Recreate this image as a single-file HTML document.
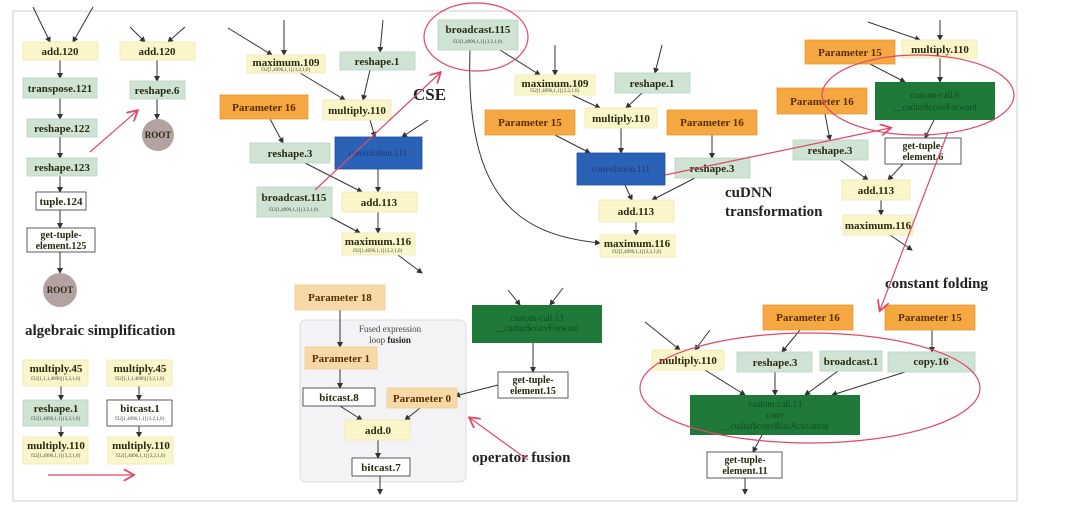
<!DOCTYPE html>
<html><head><meta charset="utf-8"><style>
html,body{margin:0;padding:0;background:#fff;}
svg{display:block;font-family:"Liberation Serif",serif;}
.b{font-weight:bold;fill:#2a2a10;}
</style></head><body>
<svg width="1080" height="518" viewBox="0 0 1080 518" xmlns="http://www.w3.org/2000/svg">
<defs>
<marker id="a" markerWidth="6" markerHeight="6" refX="5" refY="3" orient="auto"><path d="M0,0 L6,3 L0,6 z" fill="#333"/></marker>
<marker id="p" markerWidth="10" markerHeight="10" refX="8" refY="5" orient="auto"><path d="M0,0 L9,5 L0,10" fill="none" stroke="#e0486a" stroke-width="1.5"/></marker>
</defs>
<rect x="13" y="11" width="1004" height="490" fill="#fff" stroke="#ccc"/>
<rect x="300" y="320" width="166" height="162" rx="6" fill="#f3f3f5" stroke="#ddd"/>
<g stroke="#333" stroke-width="1" fill="none" marker-end="url(#a)">
<path d="M33,7 L50,42"/><path d="M93,7 L73,42"/>
<path d="M60,60 L60,78"/><path d="M60,98 L60,119"/><path d="M60,137 L60,158"/><path d="M60,176 L60,192"/><path d="M60,210 L60,228"/><path d="M60,252 L60,273"/>
<path d="M130,27 L145,42"/><path d="M185,27 L168,42"/><path d="M157,60 L157,81"/><path d="M157,99 L157,119"/>
<path d="M228,28 L272,55"/><path d="M284,20 L284,55"/><path d="M383,20 L380,52"/>
<path d="M300,73 L345,100"/><path d="M370,70 L363,100"/><path d="M370,120 L375,137"/><path d="M428,120 L402,137"/>
<path d="M270,119 L283,143"/><path d="M305,163 L362,192"/><path d="M378,169 L378,192"/>
<path d="M330,217 L360,233"/><path d="M378,212 L378,233"/><path d="M398,255 L422,273"/>
<path d="M500,50 L540,75"/><path d="M555,45 L555,75"/><path d="M662,45 L655,73"/>
<path d="M572,95 L600,108"/><path d="M642,93 L626,108"/>
<path d="M555,135 L590,153"/><path d="M621,128 L621,153"/><path d="M712,135 L712,158"/>
<path d="M625,185 L632,200"/><path d="M695,178 L652,200"/><path d="M636,222 L636,235"/>
<path d="M470,50 C465,200 520,235 600,243"/>
<path d="M868,22 L920,40"/><path d="M940,20 L940,40"/>
<path d="M870,64 L905,82"/><path d="M940,58 L940,82"/>
<path d="M825,114 L830,140"/><path d="M934,120 L925,138"/>
<path d="M840,160 L868,180"/><path d="M903,164 L888,180"/><path d="M881,200 L881,215"/><path d="M890,235 L912,250"/>
<path d="M340,310 L340,347"/><path d="M340,369 L340,388"/>
<path d="M340,406 L362,420"/><path d="M420,408 L405,420"/><path d="M378,440 L378,458"/><path d="M380,476 L380,494"/>
<path d="M508,290 L520,305"/><path d="M563,288 L550,305"/><path d="M533,343 L533,372"/><path d="M498,385 L455,396"/>
<path d="M645,322 L680,350"/><path d="M710,330 L695,350"/>
<path d="M800,330 L782,352"/><path d="M932,330 L932,352"/>
<path d="M705,370 L745,395"/><path d="M775,372 L775,395"/><path d="M838,371 L805,395"/><path d="M905,372 L832,395"/>
<path d="M762,435 L753,452"/><path d="M745,478 L745,494"/>
<path d="M61,386 L61,400"/><path d="M61,426 L61,437"/><path d="M139,386 L139,400"/><path d="M139,426 L139,437"/>
</g>
<g stroke-width="0.8">
<g fill="#fbf6c9" stroke="#efe9b0">
<rect x="23" y="42" width="75" height="18"/><rect x="120" y="42" width="75" height="18"/>
<rect x="247" y="55" width="78" height="18"/><rect x="323" y="100" width="68" height="20"/>
<rect x="342" y="192" width="75" height="20"/><rect x="342" y="233" width="73" height="22"/>
<rect x="515" y="75" width="80" height="20"/><rect x="585" y="108" width="72" height="20"/>
<rect x="599" y="200" width="75" height="22"/><rect x="600" y="235" width="75" height="22"/>
<rect x="902" y="40" width="75" height="18"/><rect x="842" y="180" width="68" height="20"/><rect x="843" y="215" width="70" height="20"/>
<rect x="345" y="420" width="65" height="20"/><rect x="652" y="350" width="72" height="20"/>
<rect x="23" y="360" width="65" height="26"/><rect x="23" y="437" width="65" height="27"/>
<rect x="107" y="360" width="65" height="26"/><rect x="108" y="437" width="65" height="27"/>
</g>
<g fill="#cfe3d4" stroke="#b8d2bf">
<rect x="23" y="78" width="74" height="20"/><rect x="27" y="119" width="70" height="18"/><rect x="27" y="158" width="70" height="18"/>
<rect x="130" y="81" width="55" height="18"/><rect x="340" y="52" width="75" height="18"/><rect x="250" y="143" width="80" height="20"/>
<rect x="257" y="187" width="75" height="30"/><rect x="438" y="20" width="80" height="30"/><rect x="615" y="73" width="75" height="20"/>
<rect x="675" y="158" width="75" height="20"/><rect x="793" y="140" width="75" height="20"/>
<rect x="737" y="352" width="75" height="20"/><rect x="820" y="351" width="62" height="20"/><rect x="888" y="352" width="87" height="20"/>
<rect x="23" y="400" width="65" height="26"/>
</g>
<g fill="#f5a742" stroke="#e8982f">
<rect x="220" y="95" width="88" height="24"/><rect x="485" y="110" width="90" height="25"/><rect x="667" y="110" width="90" height="25"/>
<rect x="805" y="40" width="90" height="24"/><rect x="777" y="88" width="90" height="26"/>
<rect x="763" y="305" width="90" height="25"/><rect x="885" y="305" width="90" height="25"/>
</g>
<g fill="#f7d9a8" stroke="#efcb90">
<rect x="295" y="285" width="90" height="25"/><rect x="305" y="347" width="72" height="22"/><rect x="387" y="388" width="70" height="20"/>
</g>
<g fill="#fff" stroke="#333">
<rect x="36" y="192" width="50" height="18"/><rect x="27" y="228" width="68" height="24"/>
<rect x="107" y="400" width="65" height="26"/><rect x="885" y="138" width="76" height="26"/>
<rect x="303" y="388" width="72" height="18"/><rect x="352" y="458" width="58" height="18"/>
<rect x="498" y="372" width="70" height="26"/><rect x="707" y="452" width="75" height="26"/>
</g>
<rect x="335" y="137" width="87" height="32" fill="#2a62b8" stroke="#1e4e99"/>
<rect x="577" y="153" width="88" height="32" fill="#2a62b8" stroke="#1e4e99"/>
<rect x="875" y="82" width="120" height="38" fill="#1f7a3a"/>
<rect x="472" y="305" width="130" height="38" fill="#1f7a3a"/>
<rect x="690" y="395" width="170" height="40" fill="#1f7a3a"/>
</g>
<circle cx="60" cy="290" r="17" fill="#b2a2a2"/><circle cx="158" cy="135" r="16" fill="#b2a2a2"/>
<g font-size="11" class="b" text-anchor="middle">
<text x="60" y="55">add.120</text><text x="60" y="92">transpose.121</text><text x="62" y="132">reshape.122</text><text x="62" y="171">reshape.123</text>
<text x="61" y="205">tuple.124</text><text x="61" y="238" font-size="10">get-tuple-</text><text x="61" y="249" font-size="10">element.125</text>
<text x="60" y="293" font-size="9">ROOT</text><text x="158" y="138" font-size="9">ROOT</text>
<text x="157" y="55">add.120</text><text x="157" y="94">reshape.6</text>
<text x="286" y="66">maximum.109</text><text x="377" y="65">reshape.1</text><text x="264" y="111" fill="#5a3000">Parameter 16</text>
<text x="357" y="114">multiply.110</text><text x="290" y="157">reshape.3</text><text x="294" y="201">broadcast.115</text>
<text x="379" y="206">add.113</text><text x="378" y="245">maximum.116</text>
<text x="478" y="33">broadcast.115</text><text x="555" y="87">maximum.109</text><text x="652" y="87">reshape.1</text>
<text x="530" y="126" fill="#5a3000">Parameter 15</text><text x="621" y="122">multiply.110</text><text x="712" y="126" fill="#5a3000">Parameter 16</text>
<text x="712" y="172">reshape.3</text><text x="636" y="215">add.113</text><text x="637" y="247">maximum.116</text>
<text x="940" y="53">multiply.110</text><text x="850" y="56" fill="#5a3000">Parameter 15</text><text x="822" y="105" fill="#5a3000">Parameter 16</text>
<text x="830" y="154">reshape.3</text><text x="923" y="149" font-size="10">get-tuple-</text><text x="923" y="160" font-size="10">element.6</text>
<text x="876" y="194">add.113</text><text x="878" y="229">maximum.116</text>
<text x="340" y="301" fill="#5a3000">Parameter 18</text><text x="341" y="362" fill="#5a3000">Parameter 1</text>
<text x="339" y="401">bitcast.8</text><text x="422" y="402" fill="#5a3000">Parameter 0</text><text x="378" y="434">add.0</text><text x="381" y="471">bitcast.7</text>
<text x="533" y="383" font-size="10">get-tuple-</text><text x="533" y="394" font-size="10">element.15</text>
<text x="808" y="321" fill="#5a3000">Parameter 16</text><text x="930" y="321" fill="#5a3000">Parameter 15</text>
<text x="688" y="364">multiply.110</text><text x="775" y="366">reshape.3</text><text x="851" y="365">broadcast.1</text><text x="931" y="365">copy.16</text>
<text x="745" y="463" font-size="10">get-tuple-</text><text x="745" y="474" font-size="10">element.11</text>
<text x="56" y="372">multiply.45</text><text x="56" y="412">reshape.1</text><text x="56" y="449">multiply.110</text>
<text x="140" y="372">multiply.45</text><text x="140" y="412">bitcast.1</text><text x="141" y="449">multiply.110</text>
</g>
<g font-size="5" fill="#444" text-anchor="middle">
<text x="286" y="71">f32[1,4096,1,1]{3,2,1,0}</text><text x="294" y="211">f32[1,4096,1,1]{3,2,1,0}</text><text x="378" y="252">f32[1,4096,1,1]{3,2,1,0}</text>
<text x="478" y="43">f32[1,4096,1,1]{3,2,1,0}</text><text x="555" y="92">f32[1,4096,1,1]{3,2,1,0}</text><text x="637" y="253">f32[1,4096,1,1]{3,2,1,0}</text>
<text x="56" y="380">f32[1,1,1,4096]{3,2,1,0}</text><text x="56" y="420">f32[1,4096,1,1]{3,2,1,0}</text><text x="56" y="457">f32[1,4096,1,1]{3,2,1,0}</text>
<text x="140" y="380">f32[1,1,1,4096]{3,2,1,0}</text><text x="140" y="420">f32[1,4096,1,1]{3,2,1,0}</text><text x="141" y="457">f32[1,4096,1,1]{3,2,1,0}</text>
</g>
<g font-size="9" fill="#1a3a70" text-anchor="middle">
<text x="378" y="156">convolution.111</text><text x="621" y="172">convolution.111</text>
</g>
<g font-size="9" fill="#0e4a20" text-anchor="middle">
<text x="935" y="98">custom-call.6</text><text x="935" y="110">__cudnn$convForward</text>
<text x="537" y="321">custom-call.13</text><text x="537" y="331">__cudnn$convForward</text>
<text x="775" y="407">custom-call.13</text><text x="775" y="418">conv</text><text x="775" y="429">__cudnn$convBiasActivation</text>
</g>
<g font-size="9" fill="#444" text-anchor="middle"><text x="390" y="332">Fused expression</text><text x="390" y="343">loop <tspan font-weight="bold" fill="#222">fusion</tspan></text></g>
<g font-weight="bold" fill="#222" font-size="15">
<text x="25" y="335">algebraic simplification</text><text x="413" y="100" font-size="17">CSE</text>
<text x="725" y="197">cuDNN</text><text x="725" y="216">transformation</text>
<text x="885" y="288">constant folding</text><text x="472" y="462">operator fusion</text>
</g>
<g fill="none" stroke="#e0486a" stroke-width="1.2">
<ellipse cx="476" cy="37" rx="52" ry="34"/><ellipse cx="918" cy="95" rx="96" ry="40"/><ellipse cx="810" cy="388" rx="170" ry="55"/>
<path d="M90,152 L137,111" marker-end="url(#p)"/><path d="M48,475 L133,475" marker-end="url(#p)"/>
<path d="M315,190 L440,73" marker-end="url(#p)"/><path d="M665,175 L890,128" marker-end="url(#p)"/>
<path d="M948,132 L880,310" marker-end="url(#p)"/><path d="M528,460 L470,418" marker-end="url(#p)"/>
</g>
</svg>
</body></html>
